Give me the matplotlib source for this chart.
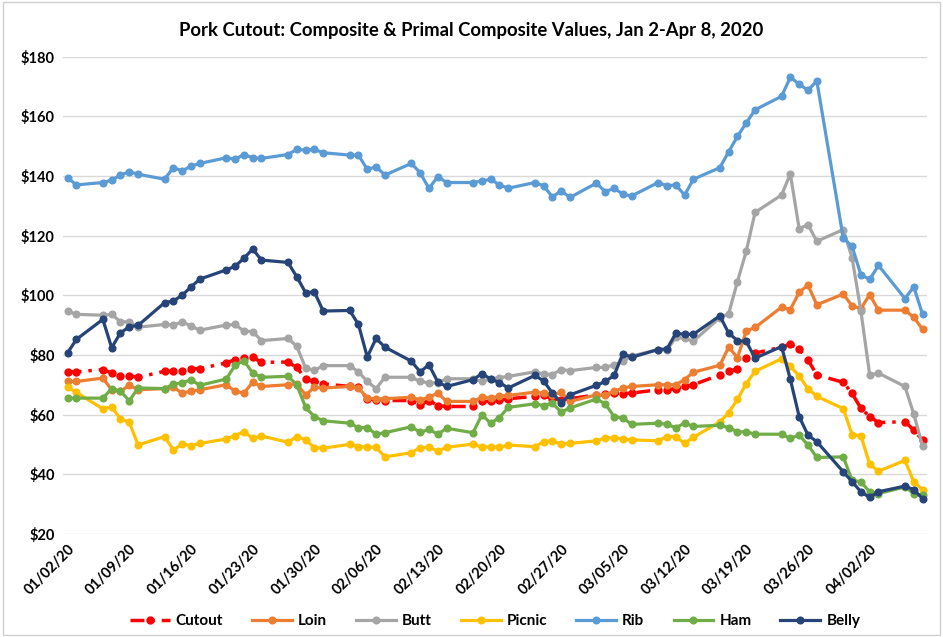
import numpy as np
import pandas as pd
import matplotlib
matplotlib.use("Agg")
import matplotlib.pyplot as plt
import matplotlib.dates as mdates
from matplotlib.patches import Rectangle

# weekday prices, Jan 2 - Apr 8 2020 ($/cwt)
dates = pd.bdate_range("2020-01-02", "2020-04-08")

cutout = [74.3, 74.3, 75.1, 73.9, 72.8, 73.0, 72.5, 74.5, 74.5, 74.7, 75.4, 75.4, 77.3, 78.4, 79.0, 79.2, 77.5,
          77.6, 75.8, 72.0, 71.1, 70.3, 69.4, 69.1, 65.3, 64.9, 64.7, 64.7, 63.3, 64.7, 63.0, 62.7,
          62.7, 64.4, 64.4, 64.8, 65.3, 66.1, 66.4, 65.3, 64.9, 65.3, 66.6, 66.9, 67.2, 67.0, 67.2,
          68.3, 68.3, 68.7, 69.4, 70.0, 73.3, 74.6, 75.2, 78.9, 80.6, 82.6, 83.6, 81.9, 78.3, 73.3,
          70.8, 67.1, 62.1, 59.3, 57.3, 57.6, 54.8, 51.4]
loin = [71.1, 71.1, 72.2, 68.3, 67.8, 69.8, 68.3, 68.7, 69.1, 67.2, 67.8, 68.3, 70.0, 67.8, 67.2, 70.8, 69.4,
        70.0, 70.3, 66.6, 69.1, 68.9, 69.4, 68.9, 65.5, 65.3, 65.3, 65.8, 64.9, 65.8, 67.2, 64.4,
        64.4, 65.8, 65.5, 66.2, 66.4, 67.5, 67.2, 66.6, 67.5, 64.4, 66.6, 66.4, 67.8, 68.9, 69.4,
        70.0, 70.0, 70.0, 71.7, 74.2, 76.5, 82.6, 79.1, 88.0, 89.2, 96.0, 95.2, 101.0, 103.4, 96.8,
        100.4, 96.5, 95.5, 100.2, 95.0, 95.0, 92.6, 88.6]
butt = [94.7, 93.6, 93.3, 93.6, 91.1, 91.1, 89.3, 90.2, 90.0, 91.1, 89.7, 88.3, 90.0, 90.2, 88.0, 87.8, 84.8,
        85.5, 82.9, 75.6, 74.8, 76.4, 76.4, 74.3, 71.1, 68.7, 72.5, 72.5, 71.1, 70.6, 70.6, 72.0,
        72.0, 71.1, 71.9, 72.4, 72.8, 74.3, 73.6, 73.4, 75.1, 74.7, 75.8, 75.8, 76.7, 77.9, 79.6,
        81.8, 81.5, 86.0, 85.5, 84.6, 92.5, 93.8, 104.6, 114.8, 127.8, 133.6, 140.7, 122.3, 123.7, 118.1,
        122.0, 112.6, 94.8, 73.3, 73.9, 69.4, 60.2, 49.4]
picnic = [69.1, 67.4, 61.9, 62.5, 58.5, 57.4, 49.8, 52.6, 48.1, 50.1, 49.6, 50.3, 51.8, 52.9, 54.3, 52.0, 52.8,
          50.7, 52.6, 51.5, 48.9, 48.7, 50.0, 49.2, 49.2, 49.0, 45.8, 47.2, 48.9, 49.0, 47.8, 49.0,
          50.1, 49.0, 49.2, 49.0, 49.8, 49.2, 50.9, 51.2, 50.1, 50.3, 51.2, 52.2, 52.2, 51.8, 51.5,
          51.2, 52.6, 52.6, 50.3, 52.4, 57.5, 60.6, 65.1, 70.4, 74.5, 78.7, 76.2, 72.9, 68.7, 66.1,
          62.0, 53.3, 52.9, 43.3, 41.0, 44.6, 37.5, 34.7]
rib = [139.4, 137.0, 137.8, 138.6, 140.3, 141.4, 140.6, 138.9, 142.8, 141.7, 143.3, 144.2, 146.1, 145.6, 147.2,
       146.1, 145.9, 147.2, 148.9, 148.7, 148.9, 147.8, 147.0, 147.0, 142.2, 143.1, 140.3, 144.2, 141.1,
       135.8, 139.8, 137.8, 137.8, 138.3, 138.9, 137.0, 135.9, 137.8, 136.7, 133.0, 135.0, 132.8, 137.6,
       134.7, 135.9, 133.9, 133.3, 137.8, 136.7, 137.0, 133.6, 138.9, 142.8, 148.1, 153.3, 157.8, 162.2,
       166.7, 173.1, 170.8, 168.7, 171.9, 119.2, 116.4, 106.9, 105.3, 110.0, 98.9, 102.8, 93.6]
ham = [65.5, 65.5, 65.5, 68.7, 67.8, 64.6, 68.9, 68.7, 70.2, 70.6, 71.7, 69.8, 71.9, 76.5, 78.1, 73.9, 72.5,
       72.8, 70.0, 62.4, 59.3, 57.9, 57.1, 55.6, 55.6, 53.4, 53.9, 55.9, 54.0, 55.0, 53.4, 55.4,
       53.9, 59.9, 57.1, 59.0, 62.4, 63.6, 63.0, 63.8, 60.8, 62.2, 65.2, 63.6, 59.3, 58.8, 56.7,
       57.1, 56.7, 55.6, 57.1, 56.0, 56.4, 55.6, 54.2, 54.2, 53.4, 53.4, 52.0, 53.1, 49.8, 45.6,
       45.8, 38.0, 37.4, 34.1, 33.5, 35.7, 33.5, 32.9]
belly = [80.7, 85.2, 91.9, 82.4, 87.4, 89.4, 89.9, 97.5, 98.1, 100.0, 102.8, 105.4, 108.5, 109.7, 112.4, 115.5,
         111.8, 111.0, 106.2, 100.9, 101.1, 94.7, 94.9, 90.2, 79.3, 85.5, 82.6, 77.9, 74.3, 76.7, 70.9,
         69.4, 71.7, 73.7, 71.9, 70.7, 68.9, 73.1, 71.3, 67.2, 64.0, 66.6, 69.8, 71.1, 73.1, 80.4, 79.2,
         81.8, 82.0, 87.2, 86.9, 86.9, 93.1, 87.3, 84.8, 84.5, 78.9, 82.8, 71.8, 59.3, 53.1, 50.9, 40.8,
         37.5, 34.1, 32.2, 34.1, 36.0, 34.8, 31.8]

tick_dates = pd.date_range("2020-01-02", "2020-04-02", freq="7D")
y_ticks = list(range(20, 181, 20))

plt.rcParams['font.family'] = ['Lato', 'DejaVu Sans']
plt.rcParams['font.weight'] = 'bold'

fig = plt.figure(figsize=(9.43, 6.37), dpi=100)
ax = fig.add_axes([0.067, 0.162, 0.916, 0.749])

series = [
    ("Cutout", cutout, "#FF0000"),
    ("Loin", loin, "#ED7D31"),
    ("Butt", butt, "#A5A5A5"),
    ("Picnic", picnic, "#FFC000"),
    ("Rib", rib, "#5B9BD5"),
    ("Ham", ham, "#70AD47"),
    ("Belly", belly, "#264478"),
]
for name, vals, col in series:
    if name == "Cutout":
        ax.plot(dates, vals, color=col, lw=2.5, ls=(0, (4, 2, 1, 2)), marker='o', ms=5, label=name)
    else:
        ax.plot(dates, vals, color=col, lw=2.3, marker='o', ms=4.8, label=name)

ax.set_ylim(20, 180)
ax.set_yticks(y_ticks)
ax.set_yticklabels(['$%d' % v for v in y_ticks], fontsize=10.5, fontweight='bold')
ax.set_xlim(dates[0] - pd.Timedelta(hours=12), dates[-1] + pd.Timedelta(hours=12))
ax.set_xticks(tick_dates)
ax.set_xticklabels([d.strftime('%m/%d/%y') for d in tick_dates], rotation=45, ha='right',
                   rotation_mode='anchor', fontsize=10.5, fontweight='bold')
ax.tick_params(length=0, pad=6)
ax.grid(axis='y', color='#d9d9d9', lw=1)
ax.set_axisbelow(True)
for s in ax.spines.values():
    s.set_visible(False)

fig.suptitle("Pork Cutout: Composite & Primal Composite Values, Jan 2-Apr 8, 2020",
             y=0.965, fontsize=13.3, fontweight='bold')

fig.legend(loc='center', bbox_to_anchor=(0.525, 0.025), ncol=7, frameon=False,
           fontsize=11, handlelength=2.6, columnspacing=1.9, handletextpad=0.4)

fig.add_artist(Rectangle((0.003, 0.003), 0.994, 0.994, transform=fig.transFigure,
                         fill=False, ec='#d0d0d0', lw=1))

fig.savefig("out.png", dpi=100)
